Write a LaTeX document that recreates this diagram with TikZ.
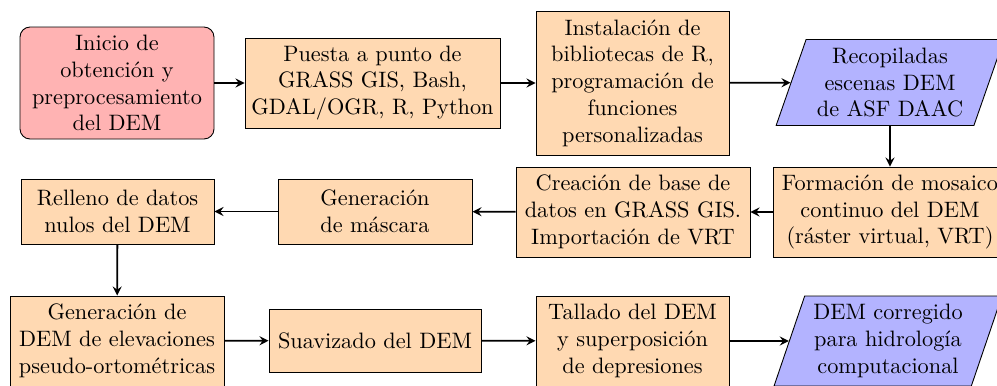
\documentclass[tikz,border=0pt]{standalone}
\usetikzlibrary{shapes.geometric,arrows}
\definecolor{startc}{RGB}{255,179,179}
\definecolor{procc}{RGB}{255,217,178}
\definecolor{ioc}{RGB}{179,179,255}
\def\pxu{0.4484pt}
\begin{document}
\begin{tikzpicture}[x=\pxu,y=-\pxu,
  base/.style={draw=black,align=center,inner sep=1pt,font=\normalsize},
  startbox/.style={base,fill=startc,rounded corners=4.5pt},
  procbox/.style={base,fill=procc},
  iobox/.style={base,fill=ioc,trapezium,trapezium left angle=70,trapezium right angle=110,trapezium stretches=true},
  arr/.style={thick,->,>=stealth}]
\useasboundingbox (0,0) rectangle (997,385);
\node[startbox,minimum width={194*\pxu},minimum height={112*\pxu}] (start) at (117,83) {Inicio de\\obtención y\\preprocesamiento\\del DEM};
\node[procbox,minimum width={255*\pxu},minimum height={90*\pxu}] (puesta) at (372.5,83) {Puesta a punto de\\GRASS GIS, Bash,\\GDAL/OGR, R, Python};
\node[procbox,minimum width={193*\pxu},minimum height={144*\pxu}] (inst) at (632.5,83) {Instalación de\\bibliotecas de R,\\programación de\\funciones\\personalizadas};
\node[iobox,minimum width={228*\pxu},minimum height={86*\pxu}] (recop) at (890,82.5) {Recopiladas\\escenas DEM\\de ASF DAAC};
\node[procbox,minimum width={234*\pxu},minimum height={90*\pxu}] (form) at (890,212) {Formación de mosaico\\continuo del DEM\\(ráster virtual, VRT)};
\node[procbox,minimum width={234*\pxu},minimum height={90*\pxu}] (crea) at (633,212) {Creación de base de\\datos en GRASS GIS.\\Importación de VRT};
\node[procbox,minimum width={194*\pxu},minimum height={65*\pxu}] (mask) at (375,211.5) {Generación\\de máscara};
\node[procbox,minimum width={193*\pxu},minimum height={65*\pxu}] (rell) at (117.5,211.5) {Relleno de datos\\nulos del DEM};
\node[procbox,minimum width={214*\pxu},minimum height={90*\pxu}] (gen) at (117,341) {Generación de\\DEM de elevaciones\\pseudo-ortométricas};
\node[procbox,minimum width={212*\pxu},minimum height={63*\pxu}] (suav) at (375,340.5) {Suavizado del DEM};
\node[procbox,minimum width={193*\pxu},minimum height={90*\pxu}] (tall) at (632.5,341) {Tallado del DEM\\y superposición\\de depresiones};
\node[iobox,minimum width={230*\pxu},minimum height={90*\pxu}] (corr) at (888,341) {DEM corregido\\para hidrología\\computacional};
\draw[arr] (start) -- (puesta);
\draw[arr] (puesta) -- (inst);
\draw[arr] (inst) -- (recop);
\draw[arr] (recop) -- (form);
\draw[arr] (form) -- (crea);
\draw[arr] (crea) -- (mask);
\draw[arr] (mask) -- (rell);
\draw[arr] (rell) -- (gen);
\draw[arr] (gen) -- (suav);
\draw[arr] (suav) -- (tall);
\draw[arr] (tall) -- (corr);
\end{tikzpicture}
\end{document}
